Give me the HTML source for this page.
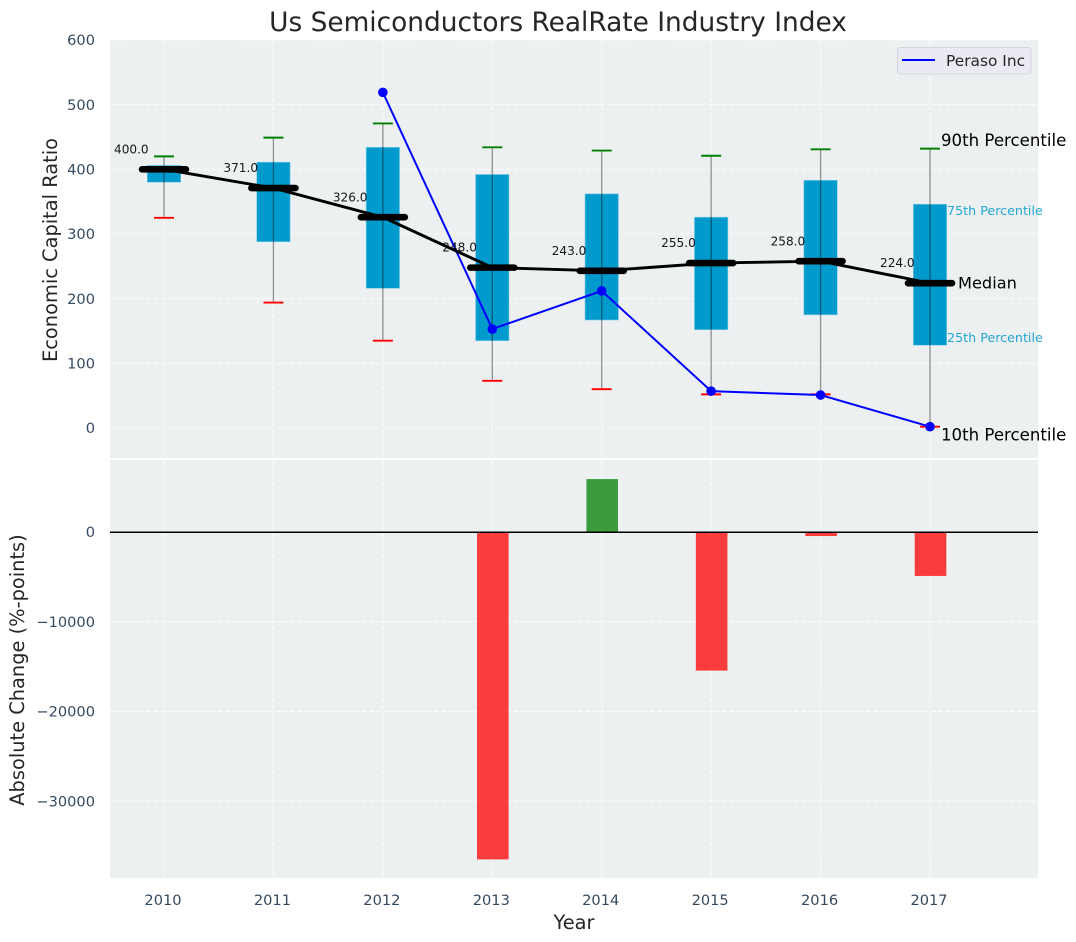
<!DOCTYPE html>
<html>
<head>
<meta charset="utf-8">
<title>Us Semiconductors RealRate Industry Index</title>
<style>
html,body{margin:0;padding:0;background:#fff;}
svg{display:block;font-family:"DejaVu Sans","Liberation Sans",sans-serif;}
</style>
</head>
<body>
<svg id="chart" width="1076" height="942" viewBox="0 0 1076 942" xmlns="http://www.w3.org/2000/svg"></svg>
<script>
const years = [2010, 2011, 2012, 2013, 2014, 2015, 2016, 2017];
const p90 = [420, 449, 471, 434, 429, 421, 431, 432];
const p75 = [406, 411, 434, 392, 362, 326, 383, 346];
const medians = [400, 371, 326, 248, 243, 255, 258, 224];
const p25 = [380, 288, 216, 135, 167, 152, 175, 128];
const p10 = [325, 194, 135, 73, 60, 52, 52, 2];
const peraso = [null, null, 519, 153, 212, 57, 51, 2];
const changes = [null, null, null, -36500, 5900, -15450, -450, -4900];
const topTicks = [0, 100, 200, 300, 400, 500, 600];
const bottomTicks = [-30000, -20000, -10000, 0];

const svg = document.getElementById('chart');
const NS = 'http://www.w3.org/2000/svg';
const plotL = 110, plotR = 1038;
const x = v => 164 + (v - 2010) * 109.43;
const yTop = v => 428 - v * 0.6467;
const yBot = v => 532 - v * 0.00897;

function add(tag, attrs, text) {
  const el = document.createElementNS(NS, tag);
  for (const k in attrs) el.setAttribute(k, attrs[k]);
  if (text !== undefined) el.textContent = text;
  svg.appendChild(el);
  return el;
}
function mark(el, name) {
  
  
  return el;
}
const gridStyle = {stroke: '#ffffff', 'stroke-width': 1.1, 'stroke-dasharray': '5,2.2', opacity: 0.85};
const tickColor = '#34495e';
const labelColor = '#262626';
const tickSize = 14.6;
const axisTitleSize = 19.4;

// Panels
mark(add('rect', {x: plotL, y: 40, width: plotR - plotL, height: 418, fill: '#ecf0f1'}), 'top-panel');
mark(add('rect', {x: plotL, y: 460, width: plotR - plotL, height: 418, fill: '#ecf0f1'}), 'bottom-panel');

// Grid and ticks
years.forEach(yr => {
  mark(add('line', Object.assign({x1: x(yr), x2: x(yr), y1: 40, y2: 458}, gridStyle)), 'top-vertical-grid-' + yr);
  mark(add('line', Object.assign({x1: x(yr), x2: x(yr), y1: 460, y2: 878}, gridStyle)), 'bottom-vertical-grid-' + yr);
  mark(add('text', {x: x(yr) - 1, y: 905, 'text-anchor': 'middle', 'font-size': tickSize, fill: tickColor}, String(yr)), 'x-tick-' + yr);
});
topTicks.forEach(t => {
  mark(add('line', Object.assign({x1: plotL, x2: plotR, y1: yTop(t), y2: yTop(t)}, gridStyle)), 'top-horizontal-grid-' + t);
  mark(add('text', {x: 95, y: yTop(t) + 5.2, 'text-anchor': 'end', 'font-size': tickSize, fill: tickColor}, String(t)), 'top-y-tick-' + t);
});
bottomTicks.forEach(t => {
  mark(add('line', Object.assign({x1: plotL, x2: plotR, y1: yBot(t), y2: yBot(t)}, gridStyle)), 'bottom-horizontal-grid-' + t);
  mark(add('text', {x: 95, y: yBot(t) + 5.2, 'text-anchor': 'end', 'font-size': tickSize, fill: tickColor}, String(t).replace('-', '\u2212')), 'bottom-y-tick-' + t);
});

// Boxes
years.forEach((yr, i) => {
  mark(add('rect', {x: x(yr) - 16.7, y: yTop(p75[i]), width: 33.4, height: yTop(p25[i]) - yTop(p75[i]), fill: '#009ACD', stroke: '#7fcce6', 'stroke-width': 0.6}), 'box-' + yr);
});
// Whiskers
years.forEach((yr, i) => {
  mark(add('line', {x1: x(yr), x2: x(yr), y1: yTop(p90[i]), y2: yTop(p10[i]), stroke: '#000', 'stroke-opacity': 0.42, 'stroke-width': 1.3}), 'whisker-' + yr);
  mark(add('line', {x1: x(yr) - 10, x2: x(yr) + 10, y1: yTop(p90[i]), y2: yTop(p90[i]), stroke: '#008000', 'stroke-width': 1.9}), 'p90-cap-' + yr);
  mark(add('line', {x1: x(yr) - 10, x2: x(yr) + 10, y1: yTop(p10[i]), y2: yTop(p10[i]), stroke: '#ff0000', 'stroke-width': 1.9}), 'p10-cap-' + yr);
});

// Peraso series
const perasoPts = years.map((yr, i) => peraso[i] === null ? null : x(yr) + ',' + yTop(peraso[i])).filter(Boolean);
mark(add('polyline', {points: perasoPts.join(' '), fill: 'none', stroke: '#0000ff', 'stroke-width': 2}), 'peraso-line');
years.forEach((yr, i) => {
  if (peraso[i] === null) return;
  mark(add('circle', {cx: x(yr), cy: yTop(peraso[i]), r: 4.8, fill: '#0000ff'}), 'peraso-point-' + yr);
});

// Median line and bars
mark(add('polyline', {points: years.map((yr, i) => x(yr) + ',' + yTop(medians[i])).join(' '), fill: 'none', stroke: '#000', 'stroke-width': 2.9}), 'median-line');
years.forEach((yr, i) => {
  mark(add('line', {x1: x(yr) - 22, x2: x(yr) + 22, y1: yTop(medians[i]), y2: yTop(medians[i]), stroke: '#000', 'stroke-width': 6.6, 'stroke-linecap': 'round'}), 'median-bar-' + yr);
  mark(add('text', {x: x(yr) - 50, y: yTop(medians[i]) - 15.9, 'font-size': 12.1, fill: '#000', 'fill-opacity': 0.9}, medians[i].toFixed(1)), 'median-value-' + yr);
});

// Percentile annotations
const last = years[years.length - 1];
const n = years.length - 1;
mark(add('text', {x: x(last) + 11, y: yTop(p90[n]) - 2.5, 'font-size': 16.6, fill: '#000'}, '90th Percentile'), 'p90-annotation');
mark(add('text', {x: x(last) + 17, y: yTop(p75[n]) + 11, 'font-size': 12.7, fill: '#009ACD', opacity: 0.85}, '75th Percentile'), 'p75-annotation');
mark(add('text', {x: x(last) + 28, y: yTop(medians[n]) + 5.5, 'font-size': 16.2, fill: '#000'}, 'Median'), 'median-annotation');
mark(add('text', {x: x(last) + 17, y: yTop(p25[n]) - 3, 'font-size': 12.7, fill: '#009ACD', opacity: 0.85}, '25th Percentile'), 'p25-annotation');
mark(add('text', {x: x(last) + 11, y: yTop(p10[n]) + 14, 'font-size': 16.6, fill: '#000'}, '10th Percentile'), 'p10-annotation');

// Change bars
years.forEach((yr, i) => {
  if (changes[i] === null) return;
  const y0 = yBot(Math.max(changes[i], 0));
  const y1 = yBot(Math.min(changes[i], 0));
  mark(add('rect', {x: x(yr) - 15.3, y: y0, width: 31.6, height: y1 - y0, fill: changes[i] < 0 ? '#ff0000' : '#008000', 'fill-opacity': 0.75}), 'change-bar-' + yr);
});
mark(add('line', {x1: plotL, x2: plotR, y1: yBot(0) + 0.3, y2: yBot(0) + 0.3, stroke: '#000', 'stroke-width': 1.5}), 'zero-line');

// Legend
mark(add('rect', {x: 897.5, y: 47.5, width: 133.5, height: 26.5, rx: 3, fill: '#eaeaf2', stroke: '#d5d5dc', 'stroke-width': 1}), 'legend-box');
mark(add('line', {x1: 902, x2: 935, y1: 60, y2: 60, stroke: '#0000ff', 'stroke-width': 2}), 'legend-line');
mark(add('text', {x: 946, y: 66, 'font-size': 15.4, fill: labelColor}, 'Peraso Inc'), 'legend-label');

// Titles
mark(add('text', {x: 558, y: 31, 'text-anchor': 'middle', 'font-size': 26.4, fill: labelColor}, 'Us Semiconductors RealRate Industry Index'), 'chart-title');
mark(add('text', {x: 574, y: 929, 'text-anchor': 'middle', 'font-size': axisTitleSize, fill: labelColor}, 'Year'), 'x-axis-title');
mark(add('text', {transform: 'translate(57,250) rotate(-90)', 'text-anchor': 'middle', 'font-size': axisTitleSize, fill: labelColor}, 'Economic Capital Ratio'), 'top-y-axis-title');
mark(add('text', {transform: 'translate(24,670) rotate(-90)', 'text-anchor': 'middle', 'font-size': axisTitleSize, fill: labelColor}, 'Absolute Change (%-points)'), 'bottom-y-axis-title');
</script>
</body>
</html>
